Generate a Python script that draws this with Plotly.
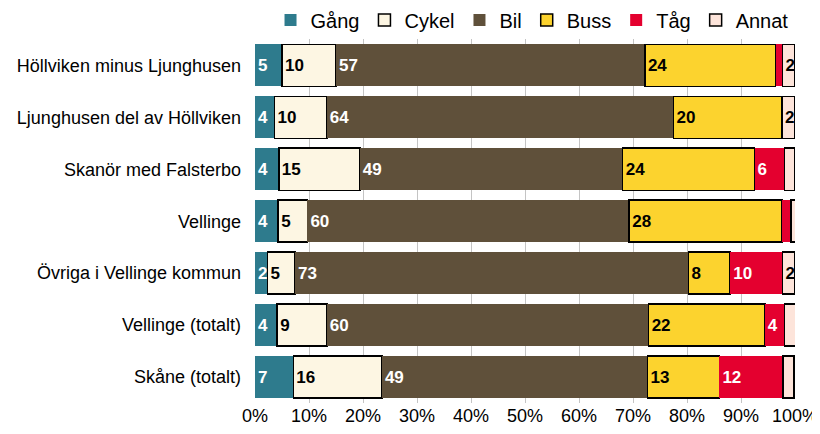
import plotly.graph_objects as go

categories = [
    "Höllviken minus Ljunghusen",
    "Ljunghusen del av Höllviken",
    "Skanör med Falsterbo",
    "Vellinge",
    "Övriga i Vellinge kommun",
    "Vellinge (totalt)",
    "Skåne (totalt)",
]

# andel resor per färdsätt (%)
gang = [5.0, 3.6, 4.4, 4.3, 2.3, 4.1, 7.1]
cykel = [10.0, 9.7, 15.0, 5.4, 5.1, 9.2, 16.4]
bil = [57.2, 64.2, 48.7, 59.6, 72.9, 59.6, 49.2]
buss = [24.2, 20.1, 24.4, 28.3, 7.7, 21.5, 13.3]
tag = [1.3, 0.0, 5.6, 1.7, 9.7, 3.7, 11.8]
annat = [2.3, 2.4, 1.9, 0.8, 2.3, 2.0, 2.0]

# which bar labels are shown in the original
show_tag = [False, False, True, False, True, True, True]
show_annat = [True, True, False, False, True, False, False]

xticks = [0, 10, 20, 30, 40, 50, 60, 70, 80, 90, 100]

series = [
    ("Gång", gang, "#2E7B8D", "white", None),
    ("Cykel", cykel, "#FDF6E3", "black", "black"),
    ("Bil", bil, "#5F503A", "white", None),
    ("Buss", buss, "#FCD32E", "black", "black"),
    ("Tåg", tag, "#E4002F", "white", None),
    ("Annat", annat, "#FDE4DA", "black", "black"),
]


def labels(name, vals):
    out = []
    for i, v in enumerate(vals):
        if name == "Tåg" and not show_tag[i]:
            out.append("")
        elif name == "Annat" and not show_annat[i]:
            out.append("")
        else:
            out.append(str(int(round(v))))
    return out


fig = go.Figure()
for name, vals, color, tcolor, lcolor in series:
    fig.add_trace(go.Bar(
        name=name,
        y=categories,
        x=vals,
        orientation="h",
        marker=dict(color=color,
                    line=dict(color=lcolor or color, width=1.5 if lcolor else 0)),
        text=labels(name, vals),
        textposition="inside",
        insidetextanchor="start",
        textangle=0,
        insidetextfont=dict(color=tcolor, size=17, family="Liberation Sans",
                            weight="bold"),
        cliponaxis=True,
        hoverinfo="x+name",
    ))

# page body has an 8px margin, so the figure is 8px smaller than the window
fig.update_layout(
    barmode="stack",
    bargap=0.19,
    width=812,
    height=426,
    margin=dict(l=247, r=25, t=30, b=31),
    paper_bgcolor="white",
    plot_bgcolor="white",
    font=dict(family="Liberation Sans", size=18, color="black"),
    uniformtext=dict(minsize=17, mode="show"),
    legend=dict(
        orientation="h",
        xref="paper", yref="container",
        x=0.513, y=0.972,
        xanchor="center", yanchor="middle",
        font=dict(size=20),
        traceorder="normal",
    ),
    showlegend=True,
)
fig.update_xaxes(
    range=[0, 100],
    tickvals=xticks,
    ticktext=[f"{t}%" for t in xticks],
    showgrid=True,
    gridcolor="#C4C4C4",
    gridwidth=1,
    zeroline=False,
    showline=False,
    ticks="",
    automargin=False,
)
fig.update_yaxes(
    autorange="reversed",
    showgrid=False,
    zeroline=False,
    ticks="",
    ticklabelstandoff=13,
    automargin=False,
)

fig.write_html("out.html")
